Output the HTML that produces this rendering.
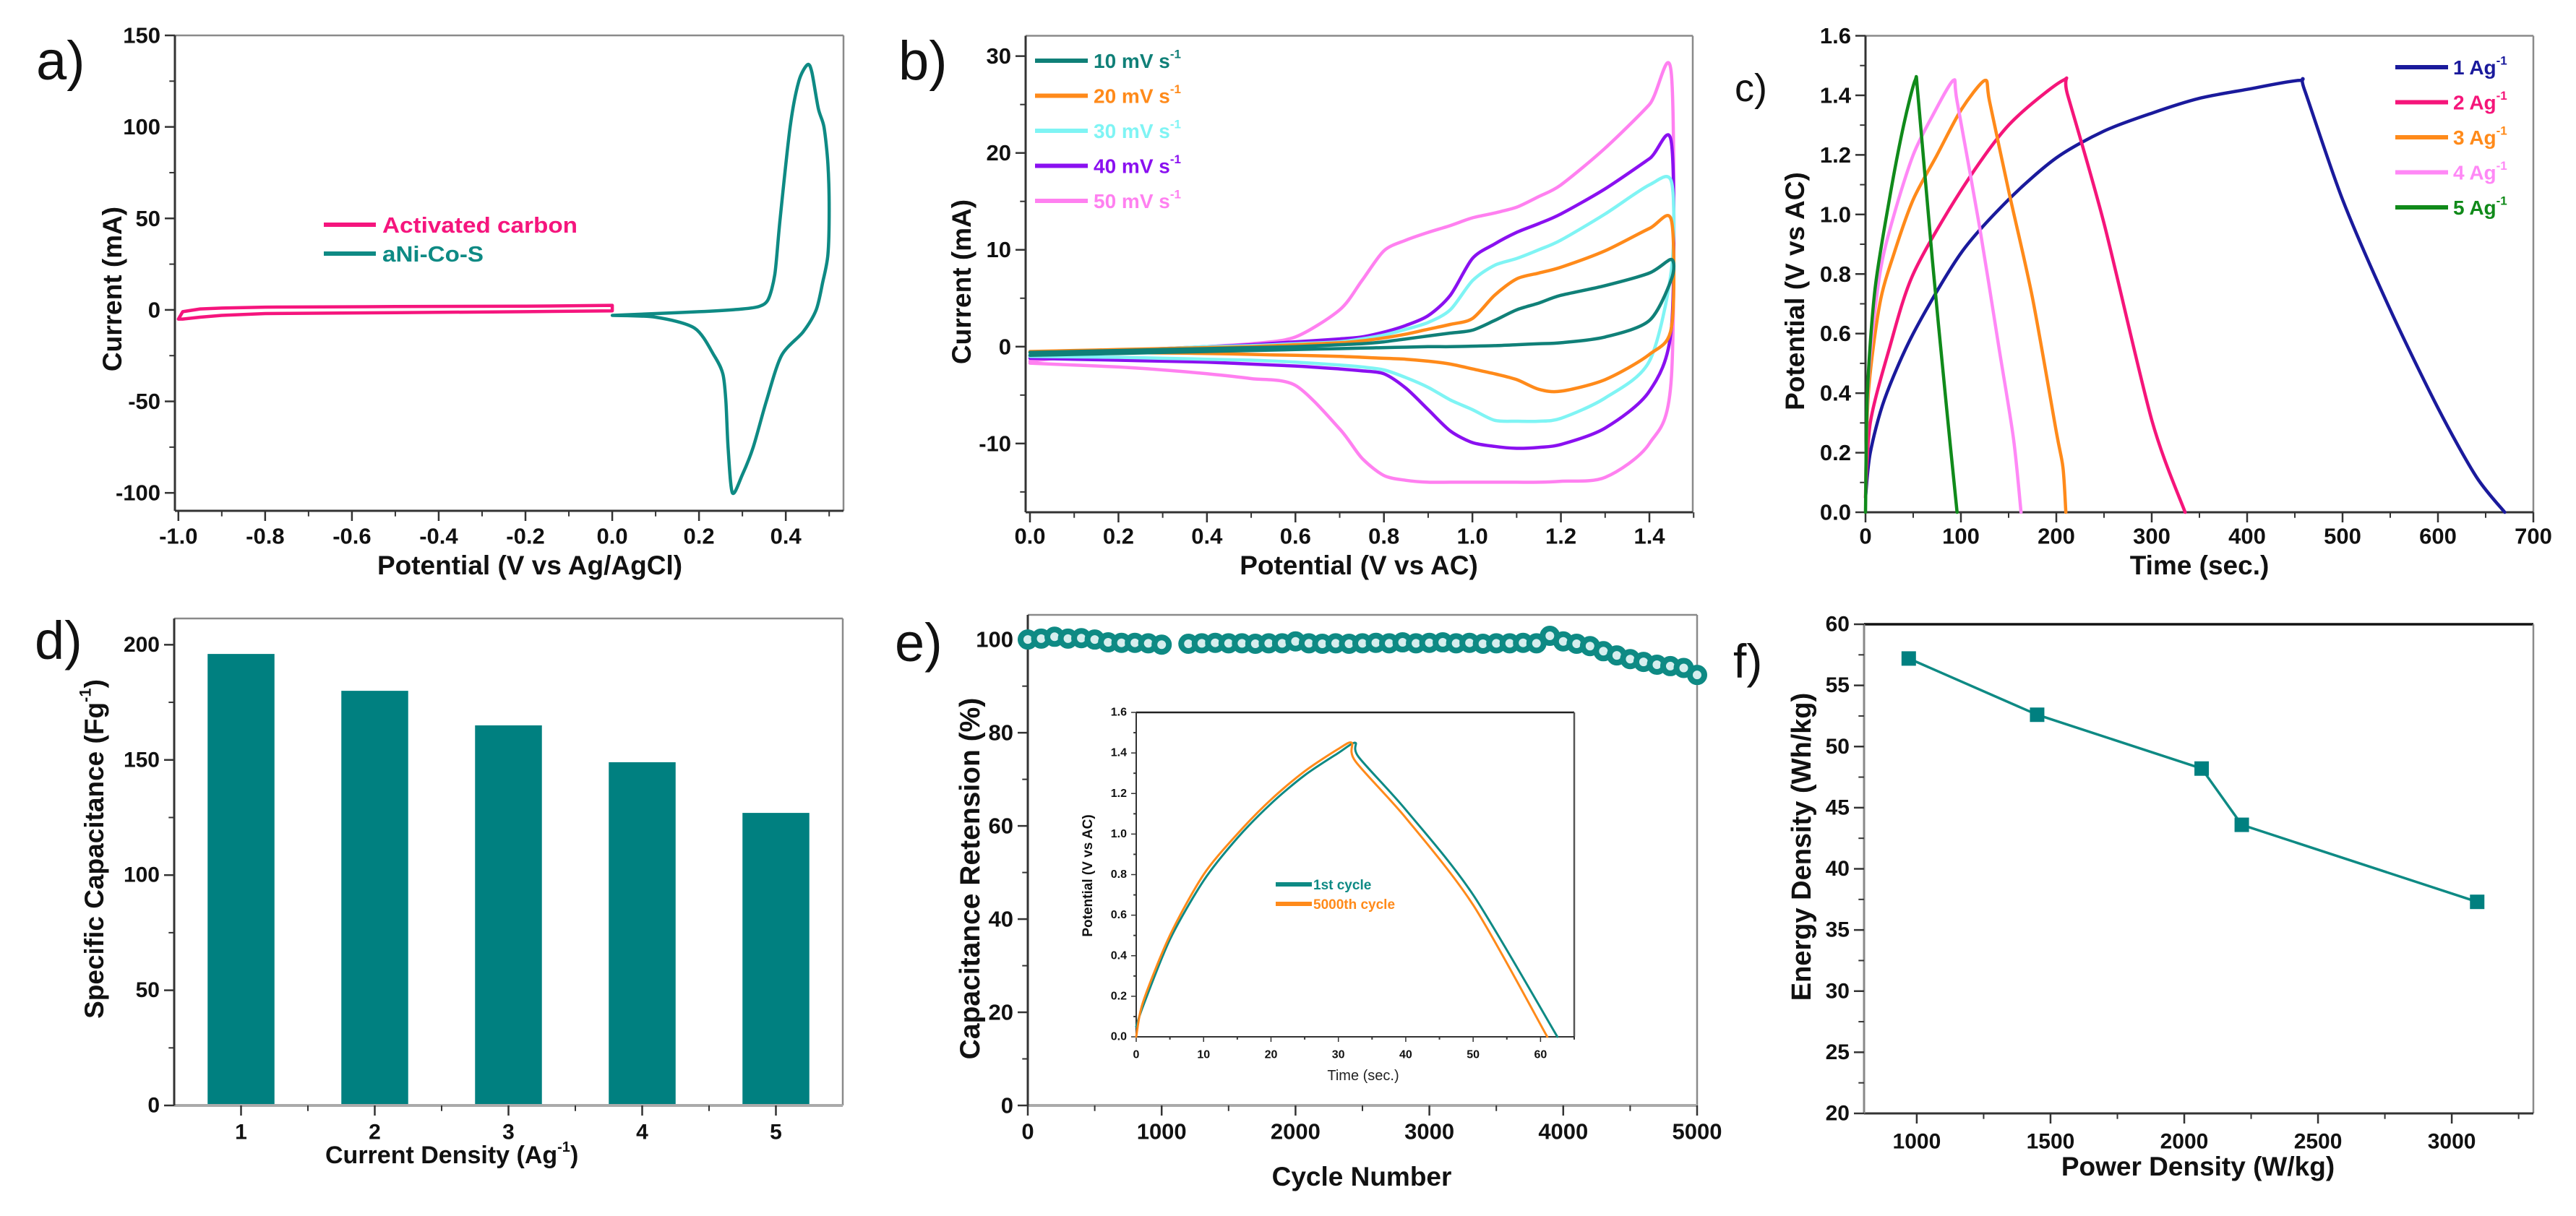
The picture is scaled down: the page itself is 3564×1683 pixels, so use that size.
<!DOCTYPE html>
<html><head><meta charset="utf-8"><style>
html,body{margin:0;padding:0;background:#fff;}
svg{display:block;font-family:"Liberation Sans",Arial,sans-serif;}
</style></head><body>
<svg id="fig" xmlns="http://www.w3.org/2000/svg" width="3564" height="1683" viewBox="0 0 3564 1683">
<rect x="0" y="0" width="3564" height="1683" fill="#fff"/>
</svg>
<script>
// ---------- data ----------
// panel a
const aAcX = [-1.0,-0.99,-0.95,-0.9,-0.8,-0.5,-0.2,0,0,-0.2,-0.5,-0.8,-0.9,-0.95,-0.99,-1.0];
const aAcY = [-5,-1,0.5,1,1.5,1.8,2,2.5,-0.5,-1,-1.5,-2,-3,-4,-5,-5];
const aNcX = [0,0.1,0.2,0.3,0.34,0.36,0.375,0.387,0.41,0.43,0.45,0.46,0.475,0.488,0.497,0.5,0.497,0.485,0.47,0.44,0.39,0.355,0.325,0.3,0.277,0.267,0.262,0.255,0.235,0.19,0.1,0];
const aNcY = [-3,-2,-1,0.5,2,6,20,50,100,125,134,130,110,100,80,55,30,15,0,-12,-25,-50,-75,-90,-100,-75,-50,-35,-25,-10,-4,-3];
const aXTicks = [-1.0,-0.8,-0.6,-0.4,-0.2,0.0,0.2,0.4];
const aXLabels = ["-1.0","-0.8","-0.6","-0.4","-0.2","0.0","0.2","0.4"];
const aYTicks = [-100,-50,0,50,100,150];
const aYLabels = ["-100","-50","0","50","100","150"];
// panel b
const bX = [0,0.1,0.2,0.3,0.4,0.5,0.6,0.7,0.75,0.8,0.85,0.9,0.95,1.0,1.05,1.1,1.15,1.2,1.3,1.4,1.45];
const b10Up = [-0.6,-0.5,-0.4,-0.3,-0.2,-0.1,0,0.2,0.3,0.5,0.8,1.1,1.4,1.7,2.7,3.8,4.5,5.3,6.3,7.6,9];
const b10Lo = [-0.9,-0.8,-0.7,-0.6,-0.5,-0.4,-0.3,-0.2,-0.15,-0.1,-0.05,0,0,0.05,0.1,0.2,0.3,0.4,1,2.7,7];
const b20Up = [-0.5,-0.4,-0.3,-0.2,-0.1,0,0.2,0.4,0.6,0.9,1.3,1.8,2.3,2.9,5.3,7,7.6,8.2,9.9,12.2,13];
const b20Lo = [-0.5,-0.55,-0.6,-0.65,-0.7,-0.8,-0.9,-1.0,-1.1,-1.2,-1.3,-1.5,-1.8,-2.3,-2.8,-3.4,-4.4,-4.6,-3.4,-0.8,2];
const b30Up = [-0.8,-0.6,-0.4,-0.2,0,0.1,0.3,0.5,0.8,1.2,1.8,2.5,3.8,6.8,8.4,9.1,10,11,13.7,16.7,17];
const b30Lo = [-1,-1.05,-1.1,-1.2,-1.3,-1.4,-1.6,-1.9,-2.1,-2.4,-3.2,-4.2,-5.5,-6.5,-7.6,-7.7,-7.7,-7.4,-5.3,-1.5,8];
const b40Up = [-1,-0.7,-0.4,-0.2,0,0.2,0.5,0.8,1,1.5,2.2,3.2,5.3,9.1,10.6,11.8,12.7,13.7,16.3,19.4,21];
const b40Lo = [-1.2,-1.3,-1.4,-1.5,-1.6,-1.8,-2,-2.3,-2.5,-2.8,-4.3,-6.5,-8.7,-9.9,-10.3,-10.5,-10.4,-10.1,-8.4,-4.6,2];
const b50Up = [-1.5,-1,-0.6,-0.3,0,0.3,1,3.8,6.8,9.9,11,11.8,12.5,13.3,13.8,14.4,15.5,16.7,20.5,25,28];
const b50Lo = [-1.7,-1.9,-2.1,-2.4,-2.8,-3.3,-4,-8.5,-11.5,-13.3,-13.8,-14,-14,-14,-14,-14,-14,-13.9,-13.5,-10,-3];
const bXTicks = [0,0.2,0.4,0.6,0.8,1.0,1.2,1.4];
const bXLabels = ["0.0","0.2","0.4","0.6","0.8","1.0","1.2","1.4"];
const bYTicks = [-10,0,10,20,30];
const bYLabels = ["-10","0","10","20","30"];
// panel c
const c1T = [0,5,20,50,100,150,200,250,300,350,400,455,460,500,550,600,640,670];
const c1V = [0.05,0.2,0.38,0.6,0.87,1.05,1.19,1.28,1.34,1.39,1.42,1.45,1.42,1.05,0.68,0.35,0.12,0];
const c2T = [0,5,25,50,100,150,207,212,250,300,335];
const c2V = [0.05,0.3,0.55,0.8,1.08,1.3,1.45,1.4,0.97,0.31,0];
const c3T = [0,3,15,30,50,75,100,125,130,150,175,200,207,210];
const c3V = [0.05,0.4,0.7,0.87,1.05,1.2,1.35,1.45,1.38,1.08,0.72,0.27,0.15,0];
const c4T = [0,3,15,30,50,70,92,96,120,140,155,163];
const c4V = [0.05,0.45,0.8,1.0,1.2,1.33,1.45,1.38,0.95,0.55,0.25,0];
const c5T = [0,2,10,25,40,52,55,70,85,96];
const c5V = [0,0.4,0.75,1.05,1.3,1.45,1.4,0.85,0.35,0];
const cXTicks = [0,100,200,300,400,500,600,700];
const cXLabels = ["0","100","200","300","400","500","600","700"];
const cYTicks = [0,0.2,0.4,0.6,0.8,1.0,1.2,1.4,1.6];
const cYLabels = ["0.0","0.2","0.4","0.6","0.8","1.0","1.2","1.4","1.6"];
// panel d
const dCats = [1,2,3,4,5];
const dVals = [196,180,165,149,127];
const dXLabels = ["1","2","3","4","5"];
const dYTicks = [0,50,100,150,200];
const dYLabels = ["0","50","100","150","200"];
// panel e
const eCycles = [0,100,200,300,400,500,600,700,800,900,1000,1100,1200,1300,1400,1500,1600,1700,1800,1900,2000,2100,2200,2300,2400,2500,2600,2700,2800,2900,3000,3100,3200,3300,3400,3500,3600,3700,3800,3900,4000,4100,4200,4300,4400,4500,4600,4700,4800,4900,5000];
const eRet = [100,100.2,100.6,100.2,100.3,100,99.4,99.3,99.3,99.2,98.9,null,99.1,99.2,99.3,99.2,99.2,99.1,99.2,99.2,99.6,99.2,99.1,99.2,99.1,99.2,99.3,99.2,99.4,99.2,99.3,99.4,99.2,99.3,99.1,99.2,99.2,99.3,99.2,100.8,99.6,99.1,98.6,97.5,96.6,95.8,95.2,94.6,94.3,93.9,92.4];
const eXTicks = [0,1000,2000,3000,4000,5000];
const eXLabels = ["0","1000","2000","3000","4000","5000"];
const eYTicks = [0,20,40,60,80,100];
const eYLabels = ["0","20","40","60","80","100"];
const iFirstT = [0,1,5,10,15,20,25,30,32.5,33,40,50,62.5];
const iFirstV = [0.05,0.15,0.48,0.77,0.98,1.15,1.29,1.4,1.45,1.38,1.12,0.70,0];
const iLastT = [0,1,5,10,15,20,25,30,32,32.5,40,50,61];
const iLastV = [0,0.17,0.5,0.8,1.0,1.17,1.31,1.42,1.45,1.36,1.08,0.65,0];
const iXTicks = [0,10,20,30,40,50,60];
const iXLabels = ["0","10","20","30","40","50","60"];
const iYTicks = [0,0.2,0.4,0.6,0.8,1.0,1.2,1.4,1.6];
const iYLabels = ["0.0","0.2","0.4","0.6","0.8","1.0","1.2","1.4","1.6"];
// panel f
const fPower = [970,1450,2065,2215,3095];
const fEnergy = [57.2,52.6,48.2,43.6,37.3];
const fXTicks = [1000,1500,2000,2500,3000];
const fXLabels = ["1000","1500","2000","2500","3000"];
const fYTicks = [20,25,30,35,40,45,50,55,60];
const fYLabels = ["20","25","30","35","40","45","50","55","60"];

// ---------- helpers ----------
const NS = "http://www.w3.org/2000/svg";
const svg = document.getElementById('fig');
function el(tag, attrs, parent){
  const e = document.createElementNS(NS, tag);
  for (const k in attrs) e.setAttribute(k, attrs[k]);
  (parent || svg).appendChild(e);
  return e;
}
function scale(d0,d1,r0,r1){ return v => r0 + (v-d0)/(d1-d0)*(r1-r0); }

function axes(p){
  const g = el('g', {});
  
  
  const sx = scale(p.xmin,p.xmax,p.L,p.R), sy = scale(p.ymin,p.ymax,p.B,p.T);
  const lw = p.lw || 3;
  const top = el('line',{x1:p.L,y1:p.T,x2:p.R,y2:p.T,stroke:p.topColor||'#8a8a8a','stroke-width':p.topW||2.5},g);
  
  
  const right = el('line',{x1:p.R,y1:p.T,x2:p.R,y2:p.B,stroke:p.rightColor||'#8a8a8a','stroke-width':2.5},g);
  
  
  const xa = el('line',{x1:p.L,y1:p.B,x2:p.R,y2:p.B,stroke:p.xColor||'#333','stroke-width':p.xW||lw},g);
  
  
  const ya = el('line',{x1:p.L,y1:p.T,x2:p.L,y2:p.B,stroke:p.yColor||'#333','stroke-width':lw},g);
  
  
  const tl = p.tick || 14, mt = (p.tick||14)*0.55;
  p.xTicks.forEach((v,i)=>{
    const x = sx(v);
    const t = el('line',{x1:x,y1:p.B,x2:x,y2:p.B+tl,stroke:'#333','stroke-width':p.tw||2.5},g);
    
    
    const lab = el('text',{x:x,y:p.xLabY,'text-anchor':'middle','dominant-baseline':'central','font-size':p.fs,'font-weight':'bold',fill:'#111'},g);
    lab.textContent = p.xLabels[i];
    
    
  });
  if (p.xMinor) p.xMinor.forEach(v=>{
    const x = sx(v);
    const t = el('line',{x1:x,y1:p.B,x2:x,y2:p.B+mt,stroke:'#333','stroke-width':2},g);
    
    
  });
  p.yTicks.forEach((v,i)=>{
    const y = sy(v);
    const t = el('line',{x1:p.L-tl,y1:y,x2:p.L,y2:y,stroke:'#333','stroke-width':p.tw||2.5},g);
    
    
    const lab = el('text',{x:p.L-tl-6,y:y,'text-anchor':'end','dominant-baseline':'central','font-size':p.fs,'font-weight':'bold',fill:'#111'},g);
    lab.textContent = p.yLabels[i];
    
    
  });
  if (p.yMinor) p.yMinor.forEach(v=>{
    const y = sy(v);
    const t = el('line',{x1:p.L-mt,y1:y,x2:p.L,y2:y,stroke:'#333','stroke-width':2},g);
    
    
  });
  return {sx, sy};
}
function minors(a,b,step){ const r=[]; for(let v=a; v<=b+1e-9; v+=step) r.push(+v.toFixed(4)); return r; }
// smooth path (Catmull-Rom, reduced tension)
function pathFrom(xs, ys, sx, sy, smooth){
  const pts = xs.map((x,i)=>[sx(x), sy(ys[i])]);
  let d = 'M' + pts[0][0].toFixed(1) + ',' + pts[0][1].toFixed(1);
  const k = smooth ? 0.14 : 0;
  for (let i=0;i<pts.length-1;i++){
    const p0 = pts[Math.max(0,i-1)], p1 = pts[i], p2 = pts[i+1], p3 = pts[Math.min(pts.length-1,i+2)];
    const c1x = p1[0] + (p2[0]-p0[0])*k, c1y = p1[1] + (p2[1]-p0[1])*k;
    const c2x = p2[0] - (p3[0]-p1[0])*k, c2y = p2[1] - (p3[1]-p1[1])*k;
    d += ' C' + c1x.toFixed(1) + ',' + c1y.toFixed(1) + ' ' + c2x.toFixed(1) + ',' + c2y.toFixed(1) + ' ' + p2[0].toFixed(1) + ',' + p2[1].toFixed(1);
  }
  return d;
}
function curve(name, xs, ys, ax, color, w, smooth){
  const p = el('path',{d:pathFrom(xs,ys,ax.sx,ax.sy,smooth),fill:'none',stroke:color,'stroke-width':w||4,'stroke-linejoin':'round','stroke-linecap':'round'});
  
  
  return p;
}
function text(name, x, y, str, attrs){
  const t = el('text', Object.assign({x:x,y:y,'font-weight':'bold',fill:'#111'}, attrs||{}));
  t.textContent = str;
  
  
  return t;
}
function supText(name, x, y, main, sup, tail, attrs, supSize){
  const t = el('text', Object.assign({x:x,y:y,'font-weight':'bold',fill:'#111'}, attrs||{}));
  
  
  const a = el('tspan',{},t); a.textContent = main;
  const b = el('tspan',{dy:-(supSize*0.8),'font-size':supSize},t); b.textContent = sup;
  if (tail){ const c = el('tspan',{dy:(supSize*0.8)},t); c.textContent = tail; }
  return t;
}
function legendLine(name, x1, x2, y, color){
  const l = el('line',{x1:x1,y1:y,x2:x2,y2:y,stroke:color,'stroke-width':6});
  
  
}
function panelLabel(name, x, y, str, size){
  const t = el('text',{x:x,y:y,'font-size':size,fill:'#111','font-weight':'normal'});
  t.textContent = str;
  
  
}

// ---------- panel a ----------
const axA = axes({name:'panel-a',L:242,R:1167,T:49,B:707,xmin:-1.008,xmax:0.533,ymin:-109.8,ymax:150,
  xTicks:aXTicks,xLabels:aXLabels,yTicks:aYTicks,yLabels:aYLabels,xMinor:minors(-0.9,0.5,0.2),yMinor:minors(-75,125,50),
  fs:31,xLabY:742});
curve('activated-carbon-curve', aAcX, aAcY, axA, '#f5157d', 4.5, false);
curve('ani-co-s-curve', aNcX, aNcY, axA, '#0e8a84', 4.5, true);
legendLine('legend-line-activated-carbon', 448, 520, 311, '#f5157d');
text('legend-label-activated-carbon', 529, 322, 'Activated carbon', {'font-size':31,fill:'#f5157d',textLength:270,lengthAdjust:'spacingAndGlyphs'});
legendLine('legend-line-ani-co-s', 448, 520, 351, '#0e8a84');
text('legend-label-ani-co-s', 529, 362, 'aNi-Co-S', {'font-size':31,fill:'#0e8a84',textLength:140,lengthAdjust:'spacingAndGlyphs'});
text('panel-a-x-title', 733, 795, 'Potential (V vs Ag/AgCl)', {'font-size':37,'text-anchor':'middle'});
text('panel-a-y-title', 0, 0, 'Current (mA)', {'font-size':37,'text-anchor':'middle',transform:'translate(168,400) rotate(-90)'});
panelLabel('panel-a-label', 50, 110, 'a)', 76);

// ---------- panel b ----------
const axB = axes({name:'panel-b',L:1419,R:2342,T:49.5,B:709,xmin:-0.0098,xmax:1.498,ymin:-17.1,ymax:32.1,
  xTicks:bXTicks,xLabels:bXLabels,yTicks:bYTicks,yLabels:bYLabels,xMinor:minors(0.1,1.5,0.2),yMinor:minors(-15,25,10),
  fs:31,xLabY:742});
const bSeries = [
  ['cv-50-mv-s', b50Up, b50Lo, '#ff80f0'],
  ['cv-40-mv-s', b40Up, b40Lo, '#8a10f0'],
  ['cv-30-mv-s', b30Up, b30Lo, '#7ff4f4'],
  ['cv-20-mv-s', b20Up, b20Lo, '#ff8a1a'],
  ['cv-10-mv-s', b10Up, b10Lo, '#108078']
];
bSeries.forEach(s=>{
  const xs = bX.concat(bX.slice().reverse());
  const ys = s[1].concat(s[2].slice().reverse());
  curve(s[0] + '-curve', xs, ys, axB, s[3], 4.5, true);
});
const bLeg = [['10','#108078'],['20','#ff8a1a'],['30','#7ff4f4'],['40','#8a10f0'],['50','#ff80f0']];
bLeg.forEach((s,i)=>{
  const y = 84 + i*48.5;
  legendLine('legend-line-' + s[0] + '-mv-s', 1432, 1505, y, s[1]);
  supText('legend-label-' + s[0] + '-mv-s', 1513, y+10, s[0] + ' mV s', '-1', '', {'font-size':28,fill:s[1]}, 17);
});
text('panel-b-x-title', 1880, 795, 'Potential (V vs AC)', {'font-size':37,'text-anchor':'middle'});
text('panel-b-y-title', 0, 0, 'Current (mA)', {'font-size':37,'text-anchor':'middle',transform:'translate(1343,390) rotate(-90)'});
panelLabel('panel-b-label', 1243, 110, 'b)', 76);

// ---------- panel c ----------
const axC = axes({name:'panel-c',L:2581,R:3505,T:49.5,B:709,xmin:0,xmax:700,ymin:0,ymax:1.6,
  xTicks:cXTicks,xLabels:cXLabels,yTicks:cYTicks,yLabels:cYLabels,xMinor:minors(50,650,100),yMinor:minors(0.1,1.5,0.2),
  fs:31,xLabY:742});
const cSeries = [['gcd-1-ag-curve',c1T,c1V,'#1a1a9c'],['gcd-2-ag-curve',c2T,c2V,'#f5157a'],['gcd-3-ag-curve',c3T,c3V,'#ff8a1a'],['gcd-4-ag-curve',c4T,c4V,'#ff88f6'],['gcd-5-ag-curve',c5T,c5V,'#108a1a']];
cSeries.forEach(s=>curve(s[0], s[1], s[2], axC, s[3], 4.5, true));
cSeries.forEach((s,i)=>{
  const y = 93 + i*48.5;
  legendLine('legend-line-' + (i+1) + '-ag', 3314, 3387, y, s[3]);
  supText('legend-label-' + (i+1) + '-ag', 3394, y+10, (i+1) + ' Ag', '-1', '', {'font-size':28,fill:s[3]}, 17);
});
text('panel-c-x-title', 3043, 795, 'Time (sec.)', {'font-size':37,'text-anchor':'middle'});
text('panel-c-y-title', 0, 0, 'Potential (V vs AC)', {'font-size':37,'text-anchor':'middle',transform:'translate(2496,403) rotate(-90)'});
panelLabel('panel-c-label', 2400, 140, 'c)', 54);

// ---------- panel d ----------
const axD = axes({name:'panel-d',L:241,R:1166,T:856,B:1530,xmin:0.5,xmax:5.5,ymin:0,ymax:211.4,
  xTicks:dCats,xLabels:dXLabels,yTicks:dYTicks,yLabels:dYLabels,xMinor:[1.5,2.5,3.5,4.5],yMinor:minors(25,175,50),
  fs:30,xLabY:1567,xColor:'#aaa',xW:4});
dCats.forEach((c,i)=>{
  const x0 = axD.sx(c-0.25), x1 = axD.sx(c+0.25), y0 = axD.sy(dVals[i]);
  const r = el('rect',{x:x0,y:y0,width:x1-x0,height:axD.sy(0)-y0-2,fill:'#008080'});
  
  
});
supText('panel-d-x-title', 450, 1610, 'Current Density (Ag', '-1', ')', {'font-size':34}, 20);
supText('panel-d-y-title', 0, 0, 'Specific Capacitance (Fg', '-1', ')', {'font-size':37,'text-anchor':'middle',transform:'translate(143,1175) rotate(-90)'}, 22);
panelLabel('panel-d-label', 48, 912, 'd)', 74);

// ---------- panel e ----------
const axE = axes({name:'panel-e',L:1422,R:2348,T:851,B:1530,xmin:0,xmax:5000,ymin:0,ymax:105.3,
  xTicks:eXTicks,xLabels:eXLabels,yTicks:eYTicks,yLabels:eYLabels,xMinor:minors(500,4500,1000),yMinor:minors(10,90,20),
  fs:31,xLabY:1566,xColor:'#aaa',xW:4});
eCycles.forEach((c,i)=>{
  if (eRet[i]===null) return;
  const m = el('circle',{cx:axE.sx(c),cy:axE.sy(eRet[i]),r:10,fill:'#d6eeee',stroke:'#0e8a84','stroke-width':8});
  
  
});
text('panel-e-x-title', 1884, 1641, 'Cycle Number', {'font-size':37,'text-anchor':'middle'});
text('panel-e-y-title', 0, 0, 'Capacitance Retension (%)', {'font-size':39,'text-anchor':'middle',transform:'translate(1355,1216) rotate(-90)'});
panelLabel('panel-e-label', 1238, 915, 'e)', 74);
// inset
const axI = axes({name:'inset',L:1572,R:2178,T:986,B:1435,xmin:0,xmax:65,ymin:0,ymax:1.6,
  xTicks:iXTicks,xLabels:iXLabels,yTicks:iYTicks,yLabels:iYLabels,xMinor:minors(5,65,10),yMinor:minors(0.1,1.5,0.2),
  fs:16,xLabY:1460,tick:7,lw:2,tw:1.5,topColor:'#222',rightColor:'#555',topW:2.5});
curve('inset-1st-cycle-curve', iFirstT, iFirstV, axI, '#0e8a84', 3, true);
curve('inset-5000th-cycle-curve', iLastT, iLastV, axI, '#ff8a1a', 3, true);
legendLine('inset-legend-line-1st', 1765, 1815, 1224, '#0e8a84');
text('inset-legend-label-1st', 1817, 1231, '1st cycle', {'font-size':19,fill:'#0e8a84'});
legendLine('inset-legend-line-5000th', 1765, 1815, 1251, '#ff8a1a');
text('inset-legend-label-5000th', 1817, 1258, '5000th cycle', {'font-size':19,fill:'#ff8a1a'});
text('inset-x-title', 1886, 1495, 'Time (sec.)', {'font-size':20,'text-anchor':'middle','font-weight':'normal',fill:'#222'});
text('inset-y-title', 0, 0, 'Potential (V vs AC)', {'font-size':19,'text-anchor':'middle',transform:'translate(1511,1212) rotate(-90)'});

// ---------- panel f ----------
const axF = axes({name:'panel-f',L:2579,R:3505,T:864,B:1541,xmin:803,xmax:3305,ymin:20,ymax:60,
  xTicks:fXTicks,xLabels:fXLabels,yTicks:fYTicks,yLabels:fYLabels,xMinor:minors(1250,3250,500),yMinor:minors(22.5,57.5,5),
  fs:30,xLabY:1580,topColor:'#111',topW:3.5,yColor:'#888'});
curve('energy-power-line', fPower, fEnergy, axF, '#0e8a84', 3.5, false);
fPower.forEach((p,i)=>{
  const m = el('rect',{x:axF.sx(p)-10,y:axF.sy(fEnergy[i])-10,width:20,height:20,fill:'#008080'});
  
  
});
text('panel-f-x-title', 3041, 1627, 'Power Density (W/kg)', {'font-size':37,'text-anchor':'middle'});
text('panel-f-y-title', 0, 0, 'Energy Density (Wh/kg)', {'font-size':38,'text-anchor':'middle',transform:'translate(2505,1172) rotate(-90)'});
panelLabel('panel-f-label', 2398, 938, 'f)', 66);
</script>
</body></html>
